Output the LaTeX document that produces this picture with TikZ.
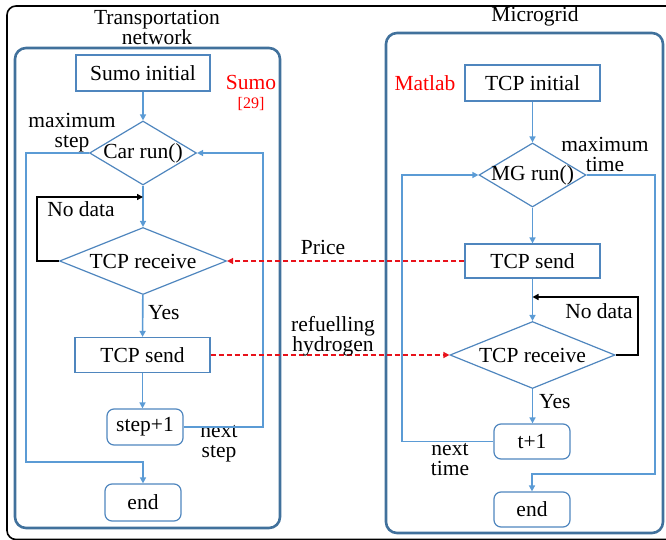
\documentclass[tikz,border=0pt]{standalone}
\usepackage{fontspec}
\setmainfont{Liberation Serif}
\newfontfamily\tnr{Liberation Serif}
\usetikzlibrary{shapes.geometric,arrows.meta}
\definecolor{cblue}{HTML}{5B9BD5}
\definecolor{nblue}{HTML}{4F86BE}
\definecolor{kblue}{HTML}{41719C}
\definecolor{dred}{HTML}{E8121B}
\begin{document}
\begin{tikzpicture}[x=1pt,y=-1pt,
  txt/.style={font=\tnr\fontsize{21.5}{20}\selectfont, inner sep=0pt, align=center},
  redtxt/.style={txt, text=red},
  boxr/.style={draw=nblue, line width=1.2pt, rectangle, inner sep=0pt},
  roundbox/.style={boxr, rounded corners=7pt},
  dia/.style={draw=nblue, line width=1.2pt, diamond, inner sep=0pt},
  tip/.style={-{Triangle[length=6pt,width=6pt]}},
  conn/.style={draw=cblue, line width=1.6pt, tip},
  blk/.style={draw=black, line width=1.6pt, tip},
  rdash/.style={draw=dred, line width=1.8pt, dash pattern=on 5pt off 3pt, tip},
  container/.style={draw=kblue, line width=2.6pt, rounded corners=11pt}
]
\useasboundingbox (0,0) rectangle (666,540);
\clip (0,0) rectangle (666,540);
% outer frame
\draw[black, line width=1.6pt, rounded corners=9pt] (7,6) rectangle (690,539.5);
% containers
\draw[container] (15,48) rectangle (280,528);
\draw[container] (386,33) rectangle (663,533);
% titles
\node[txt] (t1) at (157,27) {Transportation\\network};
\node[txt] (t2) at (535,16) {Microgrid};
\node[redtxt] (sumo) at (251,82) {Sumo};
\node[redtxt, font=\tnr\fontsize{16}{18}\selectfont] (ref) at (251,104) {[29]};
\node[redtxt] (matlab) at (425,83) {Matlab};

% left column
\node[boxr, minimum width=134pt, minimum height=36pt] (si) at (143,73) {};
\node[txt] at (si) {Sumo initial};
\node[dia, minimum width=107pt, minimum height=64pt] (car) at (143,153) {};
\node[txt] at (car) {Car run()};
\node[dia, minimum width=167pt, minimum height=67pt] (rx) at (143,261) {};
\node[txt] at (rx) {TCP receive};
\node[boxr, minimum width=135pt, minimum height=35pt] (ts) at (142.5,355) {};
\node[txt] at (ts) {TCP send};
\node[roundbox, minimum width=76pt, minimum height=36pt] (sp) at (145,427) {};
\node[txt] at (sp) {step+1};
\node[roundbox, minimum width=76pt, minimum height=37pt] (en) at (143,502.5) {};
\node[txt] at (en) {end};

\node[txt] (lmax) at (72,133) {maximum\\step};
\node[txt] (lnd) at (81,209) {No data};
\node[txt, anchor=west] (lyes) at (148,313) {Yes};
\node[txt] (lnext) at (219,444) {next\\step};

\draw[conn] (si) -- (car);
\draw[conn] (car) -- (rx);
\draw[conn] (rx) -- (ts);
\draw[conn] (ts.south) -- (ts.south |- sp.north);
\coordinate (l1) at (26,462);
\draw[conn] (car.west) -| (l1) -| (en.north);
\coordinate (r1) at (263,153);
\draw[conn] (sp.east) -| (r1) -- (car.east);
\coordinate (nd1) at (37,197);
\draw[blk] (rx.west) -| (nd1) -- (nd1 -| car.south);

% right column
\node[boxr, minimum width=135pt, minimum height=36pt] (ti) at (532.5,83) {};
\node[txt] at (ti) {TCP initial};
\node[dia, minimum width=107pt, minimum height=64pt] (mg) at (532.5,175) {};
\node[txt] at (mg) {MG run()};
\node[boxr, minimum width=135pt, minimum height=34pt] (ts2) at (532.5,261) {};
\node[txt] at (ts2) {TCP send};
\node[dia, minimum width=165pt, minimum height=67pt] (rx2) at (532.5,355) {};
\node[txt] at (rx2) {TCP receive};
\node[roundbox, minimum width=76pt, minimum height=35pt] (tp) at (532,441.5) {};
\node[txt] at (tp) {t+1};
\node[roundbox, minimum width=76pt, minimum height=35pt] (en2) at (532,509.5) {};
\node[txt] at (en2) {end};

\node[txt] (rmax) at (605,154) {maximum\\time};
\node[txt] (rnd) at (599,311) {No data};
\node[txt, anchor=west] (ryes) at (539,402) {Yes};
\node[txt] (rnext) at (450,460) {next\\time};

\draw[conn] (ti) -- (mg);
\draw[conn] (mg) -- (ts2);
\draw[conn] (ts2) -- (rx2);
\draw[conn] (rx2) -- (rx2.south |- tp.north);
\coordinate (r2) at (655,474);
\draw[conn] (mg.east) -| (r2) -| (en2.north);
\coordinate (l2) at (402,175);
\draw[conn] (tp.west) -| (l2) -- (mg.west);
\coordinate (nd2) at (638,297);
\draw[blk] (rx2.east) -| (nd2) -- (nd2 -| ts2.south);

% exchanges
\draw[rdash] (ts2.west) -- (rx.east);
\draw[rdash] (ts.east) -- (rx2.west);
\node[txt] (price) at (323,247) {Price};
\node[txt] (refuel) at (333,336) {refuelling\\hydrogen};
\end{tikzpicture}
\end{document}
